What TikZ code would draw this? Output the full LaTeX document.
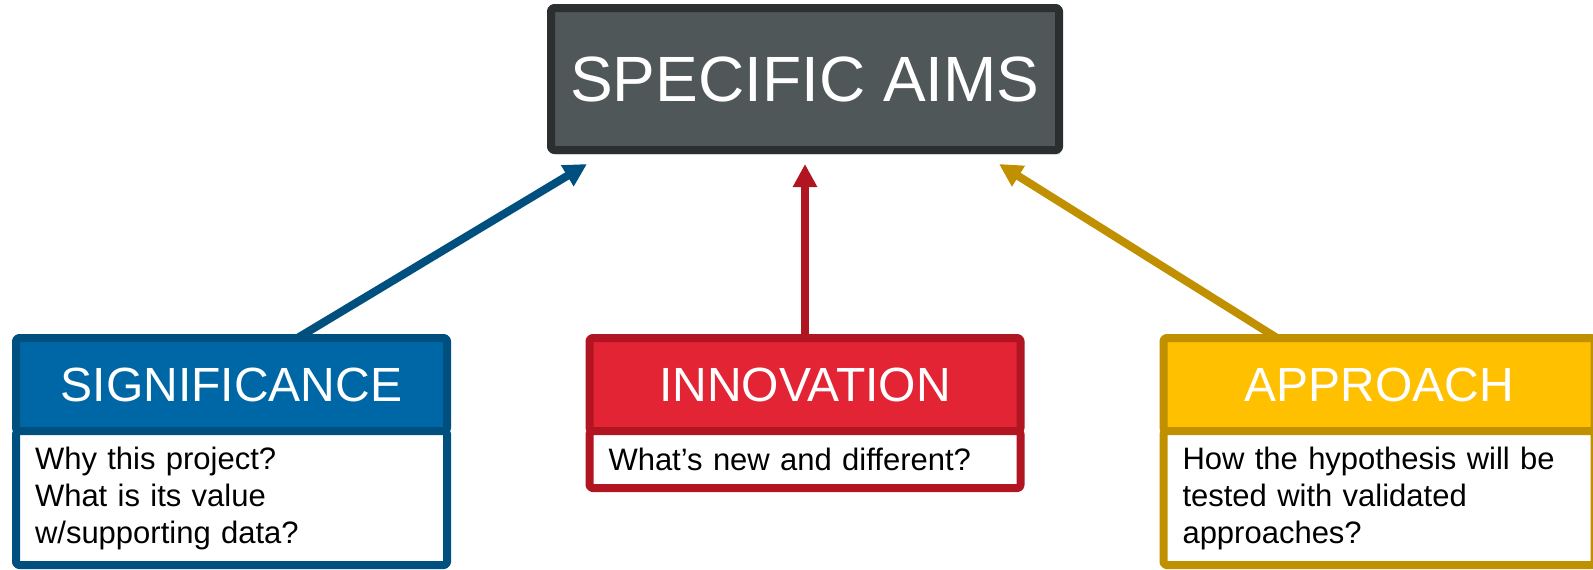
\documentclass[tikz,border=0pt]{standalone}
\usepackage{fontspec}
\setmainfont{Liberation Sans}
\usetikzlibrary{positioning,arrows.meta,shadows}
\definecolor{aimsfill}{HTML}{505759}
\definecolor{aimsline}{HTML}{2B2F30}
\definecolor{sigfill}{HTML}{0067A6}
\definecolor{sigline}{HTML}{00507F}
\definecolor{innfill}{HTML}{E32434}
\definecolor{innline}{HTML}{B11522}
\definecolor{appfill}{HTML}{FFC000}
\definecolor{appline}{HTML}{C09000}
\begin{document}
\begin{tikzpicture}[x=0.5pt,y=-0.5pt,line join=round,>={Triangle[width=11.5pt,length=11.5pt]},
	boxshadow/.style={drop shadow={opacity=0.18,shadow xshift=1.2pt,shadow yshift=-2.4pt}},
	aimsbox/.style={draw=aimsline,fill=aimsfill,line width=4pt,rounded corners=1.5pt,outer sep=0pt,inner sep=0pt,minimum width=254pt,minimum height=71pt,text=white,font=\fontsize{32}{38}\selectfont,boxshadow},
	headbox/.style={draw=#1line,fill=#1fill,line width=4pt,rounded corners=1.5pt,outer sep=0pt,inner sep=0pt,minimum width=215.5pt,minimum height=46.5pt,text=white,font=\fontsize{24}{29}\selectfont,boxshadow},
	bodybox/.style={draw=#1line,fill=white,line width=4pt,rounded corners=1.5pt,outer sep=0pt,inner xsep=9.5pt,inner ysep=0pt,text width=196.5pt,align=left,font=\fontsize{15.5}{18.5}\selectfont},
	link/.style={draw=#1line,line width=4pt,->}]
	\useasboundingbox (0,0) rectangle (1593,569);
	\clip (0,0) rectangle (1593,569);
	% boxes
	\node[aimsbox] (aims) at (805,79) {SPECIFIC AIMS};
	\node[headbox=sig] (sighead) at (231.5,384.5) {SIGNIFICANCE};
	\node[bodybox=sig,minimum height=67pt,below=0pt of sighead] (sigbody) {Why this project?\\What is its value\\w/supporting data?};
	\node[headbox=inn] (innhead) at (805,384.5) {INNOVATION};
	\node[bodybox=inn,minimum height=28.5pt,below=0pt of innhead] (innbody) {What’s new and different?};
	\node[headbox=app] (apphead) at (1379,384.5) {APPROACH};
	\node[bodybox=app,minimum height=67pt,below=0pt of apphead] (appbody) {How the hypothesis will be\\tested with validated\\approaches?};
	% arrows
	\draw[link=sig] ([xshift=33pt]sighead.north) -- ([xshift=18pt,yshift=-7pt]aims.south west);
	\draw[link=inn] (innhead.north) -- ([yshift=-7pt]aims.south);
	\draw[link=app] ([xshift=-51pt]apphead.north) -- ([xshift=-30pt,yshift=-7pt]aims.south east);
\end{tikzpicture}
\end{document}
